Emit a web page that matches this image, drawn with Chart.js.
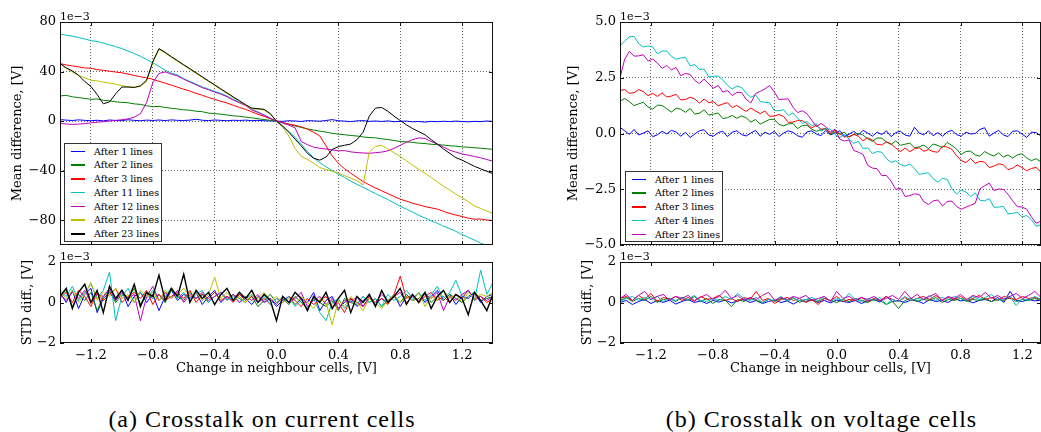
<!DOCTYPE html>
<html>
<head>
<meta charset="utf-8">
<script src="https://cdn.jsdelivr.net/npm/chart.js@4.4.1/dist/chart.umd.min.js"></script>
<style>
	body { margin: 0; background: #fff; }
	#page { position: relative; width: 1041px; height: 432px; overflow: hidden; }
	canvas { position: absolute; }
	.legend { position: absolute; width: 98px; box-sizing: border-box; border: 1px solid #333; background: #fff; padding: 1px 0 0 0; font: 9.5px "DejaVu Serif", serif; color: #000; }
	.legend div { position: relative; height: 13.75px; line-height: 13.75px; padding-left: 29px; white-space: nowrap; }
	.legend span { position: absolute; left: 6px; top: 6px; width: 14px; height: 1.5px; }
	.caption { position: absolute; top: 406px; line-height: 24px; text-align: center; font: 24px "Liberation Serif", serif; letter-spacing: 1px; color: #000; }
</style>
</head>
<body>
<div id="page">
	<canvas id="meanA" width="500" height="260" style="left:0;top:0"></canvas>
	<canvas id="stdA" width="500" height="130" style="left:0;top:250px"></canvas>
	<canvas id="meanB" width="511" height="260" style="left:530px;top:0"></canvas>
	<canvas id="stdB" width="511" height="130" style="left:530px;top:250px"></canvas>
	<div class="caption" style="left:0;width:524px">(a) Crosstalk on current cells</div>
	<div class="caption" style="left:600px;width:443px">(b) Crosstalk on voltage cells</div>
</div>
<script>
// sweep of the neighbour cells, V
const voltsA = Array.from({ length: 71 }, (_, i) => -1.4 + 0.04 * i)
const voltsB = Array.from({ length: 91 }, (_, i) => -1.4 + 0.0302 * i)
const voltsBstd = Array.from({ length: 69 }, (_, i) => -1.4 + 0.04 * i)

const xTicks = [-1.2, -0.8, -0.4, 0, 0.4, 0.8, 1.2]
const meanTicksA = [-80, -40, 0, 40, 80]
const meanTicksB = [-5, -2.5, 0, 2.5, 5]
const stdTicks = [-2, 0, 2]

const labelsA = ['After 1 lines', 'After 2 lines', 'After 3 lines', 'After 11 lines', 'After 12 lines', 'After 22 lines', 'After 23 lines']
const labelsB = ['After 1 lines', 'After 2 lines', 'After 3 lines', 'After 4 lines', 'After 23 lines']

// (a) current cells, mean difference (1e-3 V)
const meanA1 = [1.2, 0.8, 0.5, 1.0, 0.6, 0.3, 0.7, 0.2, 0.9, 0.5, 0.4, 1.1, 0.6, 0.3, 0.8, 0.5, 0.9, 0.4, 1.0, 0.6, 0.5, 0.8, 1.5, 0.7, 0.4, 0.9, 0.6, 0.3, 0.7, 0.5, 0.8, 0.4, 0.6, 0.3, 0.2,
	0.0, -0.2, 0.3, 0.1, -0.3, 0.4, 0.2, -0.1, 0.5, 1.2, 0.3, 0.0, -0.4, 0.2, 0.4, -0.2, 0.1, -0.3, 0.2, -0.5, -0.1, 0.0, -0.6, -0.3, -0.8, -0.2, -0.5, -0.1, -0.4, 0.0, -0.3, -0.6, -0.2, -0.4, 0.1, -0.3]
const meanA2 = [20.3, 20.8, 19.6, 19.0, 18.3, 17.6, 17.9, 16.8, 16.4, 15.6, 15.1, 14.8, 13.9, 13.5, 12.4, 11.6, 11.9, 11.0, 10.4, 9.8, 9.1, 8.8, 8.0, 7.6, 6.5, 6.0, 5.6, 4.9, 4.3, 3.9, 3.2, 2.6, 1.9, 1.3, 0.6,
	0.0, -1.3, -2.6, -3.9, -5.1, -6.3, -7.2, -8.1, -8.9, -9.8, -10.5, -11.0, -11.6, -12.0, -12.8, -13.2, -13.5, -14.3, -14.9, -15.6, -16.5, -16.7, -17.2, -17.8, -18.1, -18.7, -19.0, -19.3, -19.9, -20.2, -20.8, -21.1, -21.5, -21.9, -22.3, -22.8]
const meanA3 = [46.5, 45.3, 44.6, 43.8, 42.9, 42.7, 41.5, 41.0, 40.3, 39.6, 39.0, 38.0, 36.9, 35.8, 34.9, 33.8, 32.2, 30.6, 29.0, 27.4, 25.7, 24.3, 22.4, 20.9, 19.1, 17.6, 16.0, 14.6, 12.8, 11.1, 9.5, 7.5, 5.5, 3.8, 1.9,
	0.0, -1.2, -2.4, -3.4, -4.6, -6.5, -9.0, -12.0, -20.0, -28.0, -34.0, -38.5, -42.0, -45.5, -48.8, -51.5, -54.0, -56.2, -58.5, -60.8, -63.0, -64.6, -66.3, -67.5, -69.0, -70.0, -71.0, -72.8, -74.5, -75.8, -77.0, -78.3, -79.2, -79.0, -79.8, -80.3]
const meanA11 = [70.3, 69.3, 68.6, 67.5, 66.3, 65.0, 64.2, 63.0, 61.6, 60.1, 58.5, 56.5, 54.6, 52.3, 49.8, 47.0, 44.3, 41.0, 38.8, 37.2, 34.2, 32.0, 29.8, 27.6, 25.9, 24.0, 22.4, 20.3, 17.6, 15.3, 13.0, 9.5, 7.5, 5.0, 2.5,
	0.0, -4.0, -8.5, -13.0, -18.5, -24.5, -29.5, -33.5, -36.8, -40.0, -42.8, -45.5, -48.5, -51.0, -53.5, -56.0, -58.5, -61.0, -63.3, -66.0, -68.8, -71.0, -73.5, -76.0, -78.2, -80.5, -82.5, -84.8, -86.8, -89.0, -91.5, -93.8, -96.0, -98.5, -100.5, -102.0]
const meanA12 = [-1.9, -2.3, -2.7, -2.4, -2.0, -1.4, -0.9, -0.5, 0.1, 0.6, 1.1, 1.8, 3.2, 6.0, 15.0, 31.0, 38.5, 39.7, 38.0, 36.5, 33.8, 31.5, 29.3, 27.0, 25.3, 23.4, 21.8, 19.7, 17.0, 14.8, 12.5, 9.0, 7.0, 4.6, 2.2,
	0.0, -1.5, -3.3, -5.4, -16.5, -19.0, -21.0, -22.0, -22.5, -23.2, -24.0, -23.8, -24.8, -25.4, -25.7, -26.0, -25.5, -25.0, -24.0, -22.0, -19.5, -17.0, -15.0, -13.5, -14.0, -16.5, -18.5, -21.0, -23.5, -25.0, -26.5, -27.5, -28.5, -29.6, -31.0, -32.4]
const meanA22 = [46.5, 42.5, 39.5, 37.0, 35.0, 33.0, 32.5, 31.5, 30.8, 29.8, 28.6, 27.8, 27.2, 28.0, 32.0, 47.0, 58.0, 55.0, 51.5, 48.2, 45.0, 41.7, 38.5, 35.2, 32.0, 28.8, 25.5, 22.3, 19.0, 16.0, 12.8, 10.0, 9.6, 9.0, 5.5,
	0.0, -5.0, -12.0, -22.0, -28.5, -31.0, -34.0, -37.5, -39.0, -40.5, -42.0, -44.0, -46.0, -48.0, -51.5, -25.0, -20.5, -19.5, -22.5, -25.5, -28.5, -32.0, -35.5, -39.0, -42.0, -45.5, -49.0, -52.5, -55.5, -59.0, -62.0, -65.0, -68.5, -70.5, -72.5, -74.5]
const meanA23 = [46.5, 43.0, 40.5, 37.0, 32.0, 28.0, 21.5, 14.0, 15.5, 22.0, 27.5, 27.5, 27.2, 28.5, 33.0, 48.0, 58.5, 55.5, 52.0, 48.8, 45.5, 42.3, 39.0, 35.8, 32.5, 29.3, 26.0, 22.8, 19.6, 16.5, 13.2, 10.5, 10.0, 9.5, 6.0,
	0.0, -4.0, -9.0, -14.5, -20.0, -26.0, -30.0, -31.5, -29.0, -23.0, -20.5, -19.5, -18.5, -15.0, -9.0, 4.0, 10.5, 11.0, 8.0, 4.0, 0.5, -3.0, -6.0, -8.5, -11.0, -15.0, -18.5, -22.5, -26.0, -29.5, -31.5, -34.0, -36.5, -38.5, -40.5, -42.5]

// (a) current cells, STD difference (1e-3 V)
const stdA1 = [0.5, 0.0, 0.6, -0.3, 0.4, 0.7, -0.5, 0.2, 0.5, 0.1, 0.6, -0.2, 0.3, 0.5, 0.0, 0.4, -0.4, 0.3, 0.6, 0.1, 0.4, 0.2, 0.5, -0.1, 0.3, 0.6, 0.0, 0.3, 0.1, 0.4, 0.2, -0.1, 0.3, 0.0, 0.2, -0.2,
	0.1, 0.3, -0.1, 0.2, 0.0, 0.5, -0.4, 0.1, 0.3, -0.3, 0.0, 0.2, -0.2, 0.1, 0.3, -0.1, 0.2, 0.0, 0.4, -0.2, 0.3, 0.1, 0.5, 0.0, 0.3, 0.6, 0.1, 0.4, -0.1, 0.3, 0.2, 0.5, 0.0, 0.3, 0.4]
const stdA2 = [0.3, 0.6, -0.2, 0.4, 0.1, 0.5, -0.4, 0.3, 0.6, 0.0, 0.4, 0.2, 0.7, -0.1, 0.5, 0.2, 0.4, 0.0, 0.6, 0.3, 0.1, 0.5, 0.2, 0.4, 0.0, 0.3, 0.5, 0.1, 0.4, 0.2, 0.0, 0.3, -0.2, 0.1, 0.4, 0.0,
	0.2, -0.1, 0.3, 0.0, -0.3, 0.2, 0.0, -0.2, 0.1, -0.4, 0.2, 0.0, -0.1, 0.3, 0.0, 0.2, -0.2, 0.1, 0.3, 0.0, 0.4, 0.1, 0.2, 0.5, 0.0, 0.3, 0.1, 0.4, 0.2, 0.0, 0.3, 0.5, 0.1, 0.2, 0.3]
const stdA3 = [0.2, 0.5, 0.0, 0.6, 0.3, -0.2, 0.5, 0.1, 0.4, 0.7, 0.0, 0.3, 0.5, 0.2, 0.6, -0.1, 0.4, 0.1, 0.3, 0.5, 0.2, 0.6, 0.0, 0.4, 0.2, 0.5, 0.1, 0.3, 0.0, 0.4, 0.1, 0.3, 0.0, 0.2, -0.1, 0.2,
	0.0, 0.3, 0.1, -0.2, 0.2, -0.1, 0.1, 0.3, -0.2, 0.0, -0.5, 0.2, 0.0, -0.2, 0.3, 0.0, 0.2, -0.1, 0.4, 1.3, 0.2, 0.4, 0.0, 0.3, 0.5, 0.1, 0.3, 0.0, 0.4, 0.2, 0.6, 0.1, 0.3, 0.0, 0.2]
const stdA11 = [0.6, 0.3, 0.8, 0.1, 0.5, 0.9, 0.2, 0.6, 1.5, -0.9, 0.3, 0.7, 0.0, 0.5, 0.2, 0.6, 0.1, 0.4, 0.7, 0.2, 0.5, 0.1, 0.4, 0.6, 0.0, 0.3, 0.5, 0.1, 0.3, 0.0, 0.2, 0.4, 0.0, 0.3, -0.1, 0.2,
	0.0, 0.3, -0.2, 0.1, -0.3, 0.2, -0.5, -0.9, 0.0, 0.2, -0.3, 0.1, -0.1, 0.3, 0.0, 0.2, -0.2, 0.4, 0.1, 0.3, 0.6, 0.2, 0.5, 0.1, 0.4, 0.8, 0.2, 0.5, 1.1, 0.3, 0.6, 0.1, 1.6, 0.4, 1.0]
const stdA12 = [0.4, 0.1, 0.5, 0.2, 0.6, 0.0, 0.4, 0.3, 0.7, 0.1, 0.5, 0.2, 0.4, -0.9, 0.3, 0.8, 0.1, 0.5, 0.2, 0.6, 0.0, 0.4, 0.2, 0.5, 0.1, 0.3, 0.5, 0.2, 0.4, 0.0, 0.3, 0.1, 0.4, 0.0, 0.2, -0.1,
	0.3, 0.0, 0.2, 0.5, -0.2, 0.1, 0.3, -0.1, 0.2, -0.3, 0.1, 0.0, 0.3, -0.2, 0.2, 0.0, 0.4, 0.1, 0.3, 0.5, 0.0, 0.3, 0.1, 0.4, 0.2, 0.5, -0.4, 0.3, 0.1, 0.4, 0.6, 0.2, 0.3, 0.1, 0.3]
const stdA22 = [0.5, 0.2, 0.6, 0.0, 0.4, 1.0, 0.1, 0.5, 0.3, 0.7, 0.2, 0.4, 0.0, 0.6, 0.3, 0.5, 0.1, 0.6, 0.2, 0.4, 0.7, 0.3, 0.5, 0.1, 0.4, 1.25, 0.2, 0.5, 0.1, 0.3, 0.0, 0.4, 0.2, 0.5, 0.1, 0.3,
	0.0, 0.2, -0.1, 0.3, 0.0, -0.3, 0.2, 0.0, -1.1, 0.1, -0.2, 0.3, 0.0, -0.4, 0.2, 0.0, -0.3, 0.1, 0.4, 0.0, 0.3, 0.1, 0.5, -0.2, 0.3, 0.1, 0.6, 0.2, 0.4, 0.0, 0.5, 0.2, 0.4, 0.3, 0.5]
const stdA23 = [0.3, 0.7, -0.3, 0.5, 0.9, 0.0, 0.6, -0.5, 0.8, 0.2, 0.6, 0.1, 0.9, -0.2, 0.5, 0.3, 1.35, 0.1, 0.7, 0.3, 1.4, 0.0, 0.6, 0.2, 0.5, -0.1, 0.4, 0.7, 0.1, 0.5, 0.2, 0.6, 0.0, 0.4, 0.1, -0.9,
	0.3, 0.0, 0.5, 0.2, -0.4, 0.3, 0.0, 0.5, -0.3, 0.2, 0.6, -0.5, 0.3, 0.0, 0.4, -0.2, 0.6, 0.0, 0.3, 0.7, -0.1, 0.4, 0.0, 0.5, -0.3, 0.3, 0.6, 0.0, 0.4, 0.2, -0.6, 0.5, 0.1, -0.4, 0.4]

// (b) voltage cells, mean difference (1e-3 V)
const meanB1 = [0.28, 0.12, -0.04, 0.18, -0.07, 0.02, 0.12, -0.14, -0.06, 0.1,
	-0.02, 0.14, 0.07, -0.12, 0.05, -0.18, -0.02, 0.12, 0.17, -0.07,
	-0.12, 0.04, 0.1, -0.14, 0.06, 0.12, -0.05, -0.11, 0.02, 0.14,
	-0.12, 0.06, -0.04, 0.1, -0.14, 0.02, 0.12, 0.05, -0.1, -0.17,
	0.07, 0.12, -0.02, -0.1, 0.14, -0.06, 0.02, 0.12, -0.12, -0.04,
	0.1, -0.07, 0.14, 0.02, -0.12, 0.06, -0.05, 0.12, -0.14, 0.04,
	0.1, -0.07, -0.12, 0.28, 0.02, -0.06, 0.12, -0.1, 0.04, -0.12,
	0.07, 0.14, -0.05, -0.12, 0.06, -0.02, 0.0, 0.18, 0.26, -0.12,
	0.02, 0.14, -0.06, -0.14, 0.1, 0.12, -0.02, -0.18, 0.06, 0.04, -0.1]
const meanB2 = [1.45, 1.57, 1.43, 1.25, 1.33, 1.40, 1.19, 1.09, 1.27, 1.26,
	1.11, 0.96, 1.13, 1.09, 0.95, 1.12, 0.87, 0.91, 1.06, 0.82,
	0.87, 0.92, 0.67, 0.71, 0.81, 0.68, 0.79, 0.70, 0.51, 0.63,
	0.42, 0.53, 0.63, 0.64, 0.41, 0.34, 0.43, 0.45, 0.22, 0.36,
	0.37, 0.19, 0.10, 0.17, 0.23, -0.04, 0.08, -0.03, 0.06, -0.16,
	-0.05, 0.01, -0.07, -0.24, -0.35, -0.20, -0.21, -0.38, -0.49, -0.33,
	-0.53, -0.48, -0.43, -0.65, -0.60, -0.52, -0.68, -0.47, -0.54, -0.63,
	-0.40, -0.54, -0.70, -0.94, -0.81, -0.79, -0.96, -1.02, -0.81, -0.93,
	-1.01, -0.87, -1.06, -0.96, -1.10, -0.96, -0.91, -1.09, -1.22, -1.13, -1.27]
const meanB3 = [1.93, 1.97, 1.80, 1.83, 1.97, 1.88, 1.70, 1.80, 1.66, 1.82,
	1.64, 1.68, 1.76, 1.51, 1.52, 1.63, 1.55, 1.36, 1.55, 1.38,
	1.43, 1.24, 1.32, 1.38, 1.16, 1.26, 1.11, 0.99, 1.14, 1.01,
	0.89, 1.01, 0.77, 0.78, 0.85, 0.76, 0.50, 0.51, 0.58, 0.58,
	0.44, 0.24, 0.37, 0.19, 0.20, -0.01, 0.14, -0.01, -0.15, -0.14,
	-0.04, -0.12, -0.33, -0.19, -0.30, -0.49, -0.51, -0.37, -0.47, -0.65,
	-0.81, -0.65, -0.82, -0.68, -0.64, -0.80, -0.72, -0.81, -0.84, -0.57,
	-0.61, -0.71, -1.00, -1.21, -1.31, -1.12, -1.34, -1.25, -1.28, -1.53,
	-1.46, -1.36, -1.40, -1.62, -1.56, -1.41, -1.53, -1.67, -1.57, -1.52, -1.72]
const meanB4 = [3.92, 4.15, 4.33, 4.36, 4.03, 3.88, 3.92, 3.88, 3.57, 3.70,
	3.70, 3.46, 3.33, 3.39, 3.41, 3.03, 3.09, 2.87, 2.89, 2.53,
	2.57, 2.57, 2.40, 2.16, 1.99, 2.13, 2.06, 1.81, 1.62, 1.74,
	1.43, 1.40, 1.38, 1.03, 1.02, 1.07, 0.81, 0.92, 0.69, 0.45,
	0.54, 0.35, 0.44, 0.11, 0.21, 0.20, -0.05, -0.19, -0.03, -0.25,
	-0.44, -0.36, -0.68, -0.64, -0.90, -0.81, -0.84, -1.13, -1.30, -1.22,
	-1.39, -1.46, -1.37, -1.57, -1.84, -1.79, -1.76, -2.03, -2.18, -2.01,
	-2.06, -2.47, -2.71, -2.53, -2.62, -2.83, -2.66, -2.99, -3.02, -2.92,
	-3.31, -3.30, -3.27, -3.60, -3.59, -3.53, -3.74, -3.68, -3.86, -4.16, -4.10]
const meanB23 = [2.50, 3.33, 3.68, 3.47, 3.48, 3.53, 3.25, 3.34, 3.16, 2.92,
	3.05, 2.85, 2.96, 2.59, 2.69, 2.65, 2.38, 2.24, 2.44, 2.22,
	2.03, 2.16, 1.86, 1.93, 1.70, 1.84, 1.84, 1.53, 1.37, 1.79,
	1.89, 2.00, 2.15, 1.87, 1.52, 1.54, 1.55, 1.18, 0.94, 1.02,
	0.89, 0.60, 0.31, 0.45, 0.31, 0.05, 0.20, -0.25, -0.34, -0.29,
	-0.76, -0.84, -0.94, -1.43, -1.55, -1.58, -1.89, -1.88, -2.14, -2.51,
	-2.45, -2.83, -2.78, -2.71, -2.73, -3.06, -3.18, -3.02, -2.98, -3.25,
	-3.05, -3.03, -3.27, -3.40, -3.30, -3.22, -3.13, -2.48, -2.34, -2.23,
	-2.56, -2.49, -2.51, -2.72, -3.02, -3.28, -3.30, -3.39, -3.73, -4.02, -3.94]

// (b) voltage cells, STD difference (1e-3 V)
const stdB1 = [0.0, 0.1, -0.1, 0.05, 0.15, -0.05, 0.1, 0.0, 0.12, -0.08, 0.05, 0.15, 0.0, 0.08, -0.05, 0.1, 0.02, 0.12, -0.02, 0.08,
	0.15, 0.0, 0.1, -0.05, 0.05, 0.12, 0.0, 0.08, -0.08, 0.1, 0.05, 0.15, 0.0, 0.1, -0.02, 0.12, 0.05, 0.0, 0.1, -0.05,
	0.08, 0.15, 0.02, 0.3, 0.05, 0.1, 0.0, 0.12, 0.08, -0.05, 0.15, 0.05, 0.1, 0.0, 0.2, 0.08, 0.12, -0.02, 0.1, 0.15,
	0.05, 0.25, 0.0, 0.55, 0.1, 0.05, 0.15, 0.08, 0.12]
const stdB2 = [0.1, 0.25, 0.05, 0.2, 0.1, 0.3, 0.0, 0.15, 0.2, 0.05, 0.25, 0.1, 0.3, 0.05, 0.2, -0.05, 0.15, 0.1, -0.2, 0.15,
	0.05, 0.2, 0.1, 0.0, 0.15, 0.05, 0.2, 0.1, 0.25, 0.0, 0.15, 0.1, 0.05, 0.2, 0.1, 0.0, 0.15, 0.05, 0.2, 0.1,
	0.0, 0.15, 0.1, -0.1, 0.05, -0.3, 0.1, 0.2, 0.05, 0.15, 0.1, 0.25, 0.0, 0.15, 0.1, 0.2, 0.05, 0.15, 0.1, 0.2,
	0.05, 0.15, 0.1, 0.25, 0.05, 0.15, 0.1, 0.2, 0.1]
const stdB3 = [0.2, 0.3, 0.1, 0.35, 0.15, 0.45, 0.05, 0.25, 0.15, 0.3, 0.1, 0.25, 0.05, 0.3, 0.15, 0.2, 0.35, 0.1, 0.2, 0.05,
	0.25, 0.15, 0.55, 0.1, 0.2, -0.05, 0.15, 0.25, 0.1, 0.2, 0.0, 0.15, -0.1, 0.2, 0.1, 0.3, 0.05, 0.15, 0.1, 0.25,
	0.05, 0.2, 0.1, 0.3, 0.15, 0.05, 0.25, 0.1, 0.2, 0.3, 0.15, 0.35, 0.1, 0.25, 0.15, 0.3, 0.1, 0.2, 0.35, 0.15,
	0.25, 0.1, 0.3, 0.2, 0.15, 0.3, 0.2, 0.25, 0.15]
const stdB4 = [0.05, 0.2, 0.3, 0.1, 0.25, 0.15, 0.3, 0.05, 0.2, 0.1, 0.25, 0.15, 0.35, 0.1, 0.05, 0.2, 0.1, 0.3, 0.15, 0.45,
	0.2, 0.1, 0.25, 0.0, 0.15, 0.1, 0.3, 0.05, 0.2, 0.1, 0.15, 0.25, 0.1, 0.3, 0.05, 0.2, 0.1, 0.45, 0.15, 0.05,
	0.2, 0.1, 0.25, -0.1, 0.15, 0.05, 0.3, 0.1, 0.2, 0.15, 0.35, 0.1, 0.25, 0.15, 0.3, 0.2, 0.1, 0.3, 0.15, 0.25,
	0.4, 0.1, 0.2, 0.3, -0.15, 0.2, 0.1, 0.3, 0.15]
const stdB23 = [0.2, 0.4, 0.1, 0.35, 0.55, 0.15, 0.3, 0.4, 0.1, 0.3, 0.2, 0.35, 0.1, 0.25, 0.4, 0.15, 0.3, 0.6, 0.2, 0.35,
	0.1, 0.25, 0.15, 0.35, 0.5, 0.1, 0.25, 0.15, 0.3, 0.2, 0.35, 0.1, 0.2, 0.3, 0.05, 0.55, 0.2, 0.3, 0.1, 0.25,
	0.15, 0.3, 0.1, 0.2, 0.35, 0.15, 0.55, 0.2, 0.4, 0.15, 0.3, 0.45, 0.1, 0.3, 0.2, 0.4, 0.15, 0.35, 0.25, 0.5,
	0.2, 0.35, 0.15, 0.3, 0.45, 0.2, 0.35, 0.55, 0.25]

const colorsA = ['#0000ff', '#008000', '#ff0000', '#00bfbf', '#bf00bf', '#bfbf00', '#000000']
const colorsB = ['#0000ff', '#008000', '#ff0000', '#00bfbf', '#bf00bf']

const serif = '"DejaVu Serif", serif'
const font = { family: serif, size: 13 }
const minus = s => s.replace('-', '\u2212')

// matplotlib-like frame: full box, inward ticks, offset text
const frame = {
	id: 'frame',
	afterDatasetsDraw(chart) {
		const { ctx, chartArea: a, scales: { x, y } } = chart
		ctx.save()
		ctx.strokeStyle = '#111'
		ctx.lineWidth = 1
		ctx.beginPath()
		for (const t of x.ticks) {
			const px = Math.round(x.getPixelForValue(t.value)) + 0.5
			ctx.moveTo(px, a.top); ctx.lineTo(px, a.top + 4)
			ctx.moveTo(px, a.bottom); ctx.lineTo(px, a.bottom - 4)
		}
		for (const t of y.ticks) {
			const py = Math.round(y.getPixelForValue(t.value)) + 0.5
			ctx.moveTo(a.left, py); ctx.lineTo(a.left + 4, py)
			ctx.moveTo(a.right, py); ctx.lineTo(a.right - 4, py)
		}
		ctx.stroke()
		ctx.strokeRect(a.left + 0.5, a.top + 0.5, a.right - a.left - 1, a.bottom - a.top - 1)
		ctx.fillStyle = '#000'
		ctx.font = '11px ' + serif
		ctx.textBaseline = 'alphabetic'
		ctx.fillText('1e\u22123', a.left, a.top - 2)
		ctx.restore()
	}
}

function panel(id, p) {
	const datasets = p.series.map((ys, i) => ({
		label: p.labels[i],
		data: ys.map((v, k) => ({ x: p.volts[k], y: v })),
		borderColor: p.colors[i],
		borderWidth: p.widths ? p.widths[i] : 1,
		order: p.series.length - i
	}))
	return new Chart(document.getElementById(id), {
		type: 'line',
		data: { datasets },
		options: {
			responsive: false,
			animation: false,
			devicePixelRatio: 1,
			layout: { padding: p.padding },
			elements: { point: { radius: 0 }, line: { tension: 0 } },
			plugins: { legend: { display: false }, tooltip: { enabled: false } },
			scales: {
				x: {
					type: 'linear', min: -1.4, max: p.xMax,
					afterBuildTicks: s => { s.ticks = xTicks.map(v => ({ value: v })) },
					afterFit: s => { s.height = p.xHeight; s.paddingLeft = 0; s.paddingRight = 0 },
					ticks: { display: p.xLabels, padding: 5, font, color: '#000', callback: v => minus(v.toFixed(1)) },
					grid: { display: p.grid, drawTicks: false, color: 'rgba(0,0,0,0.6)', lineWidth: 1 },
					border: { display: false, dash: [1, 2] },
					title: { display: p.xLabels, text: 'Change in neighbour cells, [V]', font, color: '#000', padding: { top: 0, bottom: 4 } }
				},
				y: {
					type: 'linear', min: p.yMin, max: p.yMax,
					afterBuildTicks: s => { s.ticks = p.yTicks.map(v => ({ value: v })) },
					afterFit: s => { s.width = p.yWidth; s.paddingTop = 0; s.paddingBottom = 0 },
					ticks: { padding: 4, font, color: '#000', callback: v => minus(v.toFixed(p.yDigits)) },
					grid: { display: p.grid, drawTicks: false, color: 'rgba(0,0,0,0.6)', lineWidth: 1 },
					border: { display: false, dash: [1, 2] },
					title: { display: true, text: p.yTitle, font, color: '#000', padding: { top: p.titlePad, bottom: 0 } }
				}
			}
		},
		plugins: [frame]
	})
}

panel('meanA', {
	volts: voltsA, series: [meanA1, meanA2, meanA3, meanA11, meanA12, meanA22, meanA23],
	labels: labelsA, colors: colorsA, xMax: 1.4, yMin: -100, yMax: 80, yTicks: meanTicksA, yDigits: 0,
	yTitle: 'Mean difference, [V]', titlePad: 10, yWidth: 60, xHeight: 0, xLabels: false, grid: true,
	padding: { top: 22, right: 7, bottom: 15, left: 0 }
})
panel('stdA', {
	volts: voltsA, series: [stdA1, stdA2, stdA3, stdA11, stdA12, stdA22, stdA23],
	labels: labelsA, colors: colorsA, widths: [1, 1, 1, 1, 1, 1, 1.4], xMax: 1.4, yMin: -2, yMax: 2, yTicks: stdTicks, yDigits: 0,
	yTitle: 'STD diff., [V]', titlePad: 20, yWidth: 60, xHeight: 37, xLabels: true, grid: false,
	padding: { top: 12, right: 7, bottom: 0, left: 0 }
})
panel('meanB', {
	volts: voltsB, series: [meanB1, meanB2, meanB3, meanB4, meanB23],
	labels: labelsB, colors: colorsB, xMax: 1.32, yMin: -5, yMax: 5, yTicks: meanTicksB, yDigits: 1,
	yTitle: 'Mean difference, [V]', titlePad: 36, yWidth: 90, xHeight: 0, xLabels: false, grid: true,
	padding: { top: 22, right: 0, bottom: 15, left: 0 }
})
panel('stdB', {
	volts: voltsBstd, series: [stdB1, stdB2, stdB3, stdB4, stdB23],
	labels: labelsB, colors: colorsB, xMax: 1.32, yMin: -2, yMax: 2, yTicks: stdTicks, yDigits: 0,
	yTitle: 'STD diff., [V]', titlePad: 50, yWidth: 90, xHeight: 37, xLabels: true, grid: false,
	padding: { top: 12, right: 0, bottom: 0, left: 0 }
})

function legend(left, top, labels, colors) {
	const box = document.createElement('div')
	box.className = 'legend'
	box.style.left = left + 'px'
	box.style.top = top + 'px'
	labels.forEach((t, i) => {
		const row = document.createElement('div')
		const line = document.createElement('span')
		line.style.background = colors[i]
		row.appendChild(line)
		row.appendChild(document.createTextNode(t))
		box.appendChild(row)
	})
	document.getElementById('page').appendChild(box)
}
legend(64, 142.5, labelsA, colorsA)
legend(625, 170.5, labelsB, colorsB)
</script>
</body>
</html>
